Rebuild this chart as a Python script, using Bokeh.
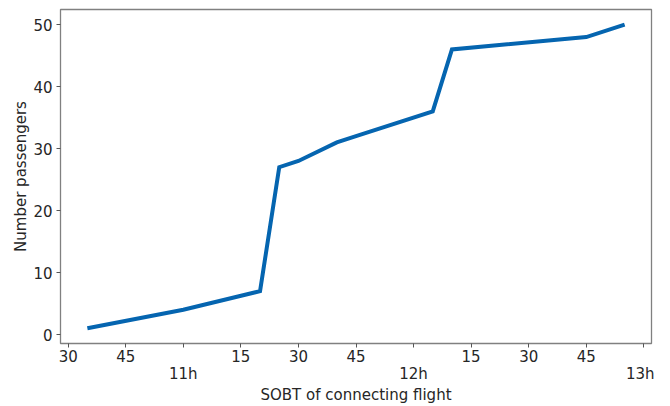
from bokeh.plotting import figure
from bokeh.models import LinearAxis, FixedTicker, Range1d
from bokeh.embed import file_html
from bokeh.resources import INLINE

# Data
times = ["10:35", "11:00", "11:20", "11:25", "11:30", "11:40", "11:45", "12:05", "12:10", "12:45", "12:55"]
passengers = [1, 4, 7, 27, 28, 31, 32, 36, 46, 48, 50]

minute_ticks = [630, 645, 660, 675, 690, 705, 720, 735, 750, 765, 780]
minute_labels = ["30", "45", "", "15", "30", "45", "", "15", "30", "45", ""]
hour_ticks = [660, 720, 780]
hour_labels = ["11h", "12h", "13h"]
y_ticks = [0, 10, 20, 30, 40, 50]


def to_min(t):
    h, m = t.split(":")
    return int(h) * 60 + int(m)


xs = [to_min(t) for t in times]
xspan = max(xs) - min(xs)
yspan = max(passengers) - min(passengers)

FONT = "DejaVu Sans"
TXT = "#262626"

p = figure(width=654, height=406, output_backend="svg", toolbar_location=None,
           x_range=Range1d(min(xs) - 0.05 * xspan, max(xs) + 0.05 * xspan),
           y_range=Range1d(min(passengers) - 0.05 * yspan, max(passengers) + 0.05 * yspan),
           x_axis_location=None, y_axis_location=None,
           min_border_left=60, min_border_right=3, min_border_top=9, min_border_bottom=62)

p.background_fill_color = "white"
p.border_fill_color = "white"
p.outline_line_color = "#808080"
p.outline_line_width = 1.3
p.xgrid.visible = False
p.ygrid.visible = False

p.line(xs, passengers, line_color="#0565b0", line_width=4, line_join="miter")

# y axis
ya = LinearAxis(ticker=FixedTicker(ticks=y_ticks), axis_label="Number passengers")
ya.axis_line_color = None
ya.major_tick_line_color = "#555555"
ya.major_tick_out = 4
ya.major_tick_in = 0
ya.minor_tick_line_color = None
ya.major_label_text_font = FONT
ya.major_label_text_font_size = "15px"
ya.major_label_text_color = TXT
ya.major_label_standoff = 4
ya.axis_label_text_font = FONT
ya.axis_label_text_font_size = "15px"
ya.axis_label_text_font_style = "normal"
ya.axis_label_text_color = TXT
ya.axis_label_standoff = 0
p.add_layout(ya, "left")

# x axis: minutes
xa = LinearAxis(ticker=FixedTicker(ticks=minute_ticks))
xa.major_label_overrides = {t: l for t, l in zip(minute_ticks, minute_labels)}
xa.axis_line_color = None
xa.major_tick_line_color = "#555555"
xa.major_tick_out = 4
xa.major_tick_in = 0
xa.minor_tick_line_color = None
xa.major_label_text_font = FONT
xa.major_label_text_font_size = "15px"
xa.major_label_text_color = TXT
xa.major_label_standoff = 2
p.add_layout(xa, "below")

# x axis: hours + title
ha = LinearAxis(ticker=FixedTicker(ticks=hour_ticks), axis_label="SOBT of connecting flight")
ha.major_label_overrides = {t: l for t, l in zip(hour_ticks, hour_labels)}
ha.axis_line_color = None
ha.major_tick_line_color = None
ha.major_tick_out = 0
ha.minor_tick_line_color = None
ha.major_label_text_font = FONT
ha.major_label_text_font_size = "15px"
ha.major_label_text_color = TXT
ha.major_label_standoff = 0
ha.axis_label_text_font = FONT
ha.axis_label_text_font_size = "15px"
ha.axis_label_text_font_style = "normal"
ha.axis_label_text_color = TXT
ha.axis_label_standoff = 0
p.add_layout(ha, "below")

open("out.html", "w").write(file_html(p, INLINE))
